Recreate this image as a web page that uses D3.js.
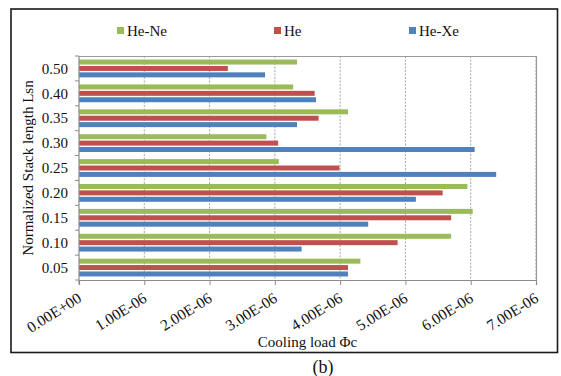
<!DOCTYPE html>
<html>
<head>
<meta charset="utf-8">
<script src="https://cdn.jsdelivr.net/npm/d3@7"></script>
<style>
  html, body { margin: 0; padding: 0; background: #fff; }
  svg { display: block; }
  text { font-family: "Liberation Serif", "Times New Roman", serif; fill: #111; }
</style>
</head>
<body>
<svg id="chart" width="561" height="376"></svg>
<script>
// ---- data ----
const categories = ["0.50", "0.40", "0.35", "0.30", "0.25", "0.20", "0.15", "0.10", "0.05"];
const seriesNames = ["He-Ne", "He", "He-Xe"];
const seriesColors = ["#9bbb59", "#c0504d", "#4f81bd"];
const heNe = [3.34e-6, 3.28e-6, 4.12e-6, 2.87e-6, 3.06e-6, 5.95e-6, 6.03e-6, 5.70e-6, 4.31e-6];
const he   = [2.28e-6, 3.61e-6, 3.67e-6, 3.05e-6, 3.99e-6, 5.57e-6, 5.70e-6, 4.88e-6, 4.12e-6];
const heXe = [2.85e-6, 3.63e-6, 3.34e-6, 6.06e-6, 6.39e-6, 5.16e-6, 4.43e-6, 3.41e-6, 4.12e-6];
const xTicks = [0, 1e-6, 2e-6, 3e-6, 4e-6, 5e-6, 6e-6, 7e-6];
const xTickLabels = ["0.00E+00", "1.00E-06", "2.00E-06", "3.00E-06", "4.00E-06", "5.00E-06", "6.00E-06", "7.00E-06"];
const yTitle = "Normalized Stack length Lsn";
const xTitle = "Cooling load Φc";
const caption = "(b)";

const seriesValues = [heNe, he, heXe];

(function () {
// ---- layout ----
const svg = d3.select("#chart");
const pLeft = 79, pRight = 536, pTop = 56, pBottom = 280;

// outer frame
svg.append("rect").attr("x", 11).attr("y", 9).attr("width", 546.5).attr("height", 343.5)
  .attr("fill", "none").attr("stroke", "#1a1a1a").attr("stroke-width", 1.6);

const x = d3.scaleLinear().domain([0, 7e-6]).range([pLeft, pRight]);
const y = d3.scaleBand().domain(categories).range([pTop, pBottom]).paddingInner(0).paddingOuter(0);
const ySub = d3.scaleBand().domain(seriesNames).range([0, y.bandwidth()])
  .paddingInner(0.22).paddingOuter(0.555);

// gridlines
svg.append("g").selectAll("line").data(xTicks.slice(1)).join("line")
  .attr("x1", d => x(d)).attr("x2", d => x(d))
  .attr("y1", pTop).attr("y2", pBottom)
  .attr("stroke", "#a6a6a6").attr("stroke-width", 1).attr("stroke-dasharray", "2,1.5");

// plot area border top/right
svg.append("path")
  .attr("d", `M${pLeft},${pTop + 0.5}H${pRight + 0.5}V${pBottom}`)
  .attr("fill", "none").attr("stroke", "#9a9a9a").attr("stroke-width", 1.2);

// bars
seriesNames.forEach((name, si) => {
  svg.append("g").selectAll("rect").data(seriesValues[si]).join("rect")
    .attr("x", x(0))
    .attr("y", (d, i) => y(categories[i]) + ySub(name))
    .attr("width", d => x(d) - x(0))
    .attr("height", ySub.bandwidth())
    .attr("fill", seriesColors[si]);
});

// x axis
const xAxis = d3.axisBottom(x).tickValues(xTicks).tickSize(5).tickFormat((d, i) => xTickLabels[i]);
const gx = svg.append("g").attr("transform", `translate(0,${pBottom})`).call(xAxis);
gx.select(".domain").attr("stroke", "#8c8c8c").attr("stroke-width", 1.2);
gx.selectAll(".tick line").attr("stroke", "#8c8c8c");
gx.selectAll(".tick text")
  .attr("font-size", 15.5)
  .attr("font-family", "Liberation Serif, serif")
  .attr("fill", "#111")
  .attr("text-anchor", "end")
  .attr("dy", null)
  .attr("y", 0)
  .attr("transform", "translate(3,21) rotate(-32)");

// y axis: ticks at band boundaries, labels at centers
const yAxisG = svg.append("g");
yAxisG.append("line").attr("x1", pLeft).attr("x2", pLeft).attr("y1", pTop).attr("y2", pBottom + 4)
  .attr("stroke", "#8c8c8c").attr("stroke-width", 1.2);
const boundaries = categories.map(c => y(c)).concat([pBottom]);
yAxisG.selectAll("line.tk").data(boundaries).join("line").attr("class", "tk")
  .attr("x1", pLeft - 4).attr("x2", pLeft).attr("y1", d => d).attr("y2", d => d)
  .attr("stroke", "#8c8c8c");
yAxisG.selectAll("text").data(categories).join("text")
  .attr("x", pLeft - 11).attr("y", d => y(d) + y.bandwidth() / 2)
  .attr("dy", "0.35em").attr("text-anchor", "end").attr("font-size", 15)
  .text(d => d);

// titles
svg.append("text").attr("transform", `translate(33,${(pTop + pBottom) / 2}) rotate(-90)`)
  .attr("text-anchor", "middle").attr("font-size", 15).text(yTitle);
svg.append("text").attr("x", (pLeft + pRight) / 2).attr("y", 347)
  .attr("text-anchor", "middle").attr("font-size", 15).text(xTitle);
svg.append("text").attr("x", 323).attr("y", 373)
  .attr("text-anchor", "middle").attr("font-size", 18).text(caption);

// legend
const legendX = [117, 274, 409];
const lg = svg.append("g");
seriesNames.forEach((name, i) => {
  lg.append("rect").attr("x", legendX[i]).attr("y", 27).attr("width", 7).attr("height", 7)
    .attr("fill", seriesColors[i]);
  lg.append("text").attr("x", legendX[i] + 10).attr("y", 35.5).attr("font-size", 15).text(name);
});
})();
</script>
</body>
</html>
